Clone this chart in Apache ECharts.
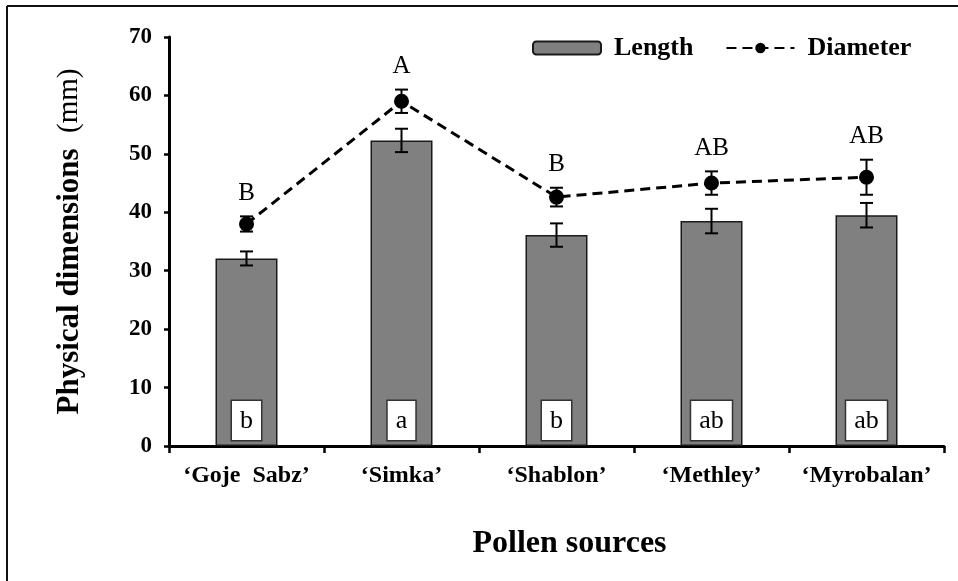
<!DOCTYPE html>
<html>
<head>
<meta charset="utf-8">
<script src="https://cdn.jsdelivr.net/npm/echarts@6/dist/echarts.min.js"></script>
<style>
html,body{margin:0;padding:0;background:#fff;}
#chart{width:958px;height:581px;}
</style>
</head>
<body>
<div id="chart"></div>
<script>
var categories = ['\u2018Goje  Sabz\u2019', '\u2018Simka\u2019', '\u2018Shablon\u2019', '\u2018Methley\u2019', '\u2018Myrobalan\u2019'];
var lengthVals = [32.1, 52.3, 36.1, 38.5, 39.5];
var lengthErr = [1.2, 2.0, 2.0, 2.1, 2.1];
var diameterVals = [38.0, 59.0, 42.6, 45.0, 46.0];
var diameterErr = [1.3, 2.0, 1.6, 2.0, 3.0];
var lengthLetters = ['b', 'a', 'b', 'ab', 'ab'];
var diameterLetters = ['B', 'A', 'B', 'AB', 'AB'];
var yTicks = [0, 10, 20, 30, 40, 50, 60, 70];

var SERIF = '"Liberation Serif", "Times New Roman", serif';

function errData(vals, errs) {
  return vals.map(function (v, i) { return [i, v, errs[i]]; });
}

function errRender(letters) {
  return function (params, api) {
    var x = api.value(0), v = api.value(1), e = api.value(2);
    var top = api.coord([x, v + e]);
    var bot = api.coord([x, v - e]);
    var h = 6.5;
    var st = { stroke: '#000', lineWidth: 2 };
    var children = [
      { type: 'line', shape: { x1: top[0], y1: top[1], x2: bot[0], y2: bot[1] }, style: st },
      { type: 'line', shape: { x1: top[0] - h, y1: top[1], x2: top[0] + h, y2: top[1] }, style: st },
      { type: 'line', shape: { x1: bot[0] - h, y1: bot[1], x2: bot[0] + h, y2: bot[1] }, style: st }
    ];
    if (letters) {
      children.push({
        type: 'text',
        style: {
          x: top[0], y: top[1] - 23,
          text: letters[params.dataIndex],
          fill: '#000',
          font: '25px ' + SERIF,
          align: 'center', verticalAlign: 'middle'
        }
      });
    }
    return { type: 'group', children: children };
  };
}

var chart = echarts.init(document.getElementById('chart'), null, { renderer: 'canvas' });

chart.setOption({
  animation: false,
  backgroundColor: '#fff',
  graphic: [
    { type: 'line', shape: { x1: 7, y1: 6, x2: 958, y2: 6 }, style: { stroke: '#111', lineWidth: 2 } },
    { type: 'line', shape: { x1: 7, y1: 6, x2: 7, y2: 581 }, style: { stroke: '#111', lineWidth: 2 } }
  ],
  legend: {
    left: 532,
    top: 35,
    padding: 0,
    itemWidth: 68,
    itemHeight: 13,
    itemGap: 32,
    data: ['Length', 'Diameter'],
    textStyle: { fontFamily: SERIF, fontWeight: 'bold', fontSize: 26, color: '#000', padding: [0, 0, 0, 8] }
  },
  grid: { left: 169, right: 14, top: 37, bottom: 135, containLabel: false },
  xAxis: {
    type: 'category',
    data: categories,
    name: 'Pollen sources',
    nameLocation: 'middle',
    nameGap: 82,
    nameTextStyle: { fontFamily: SERIF, fontWeight: 'bold', fontSize: 32, color: '#000', padding: [0, 0, 0, 26] },
    axisLine: { lineStyle: { color: '#000', width: 3 } },
    axisTick: { show: true, alignWithLabel: false, inside: false, length: 7, lineStyle: { color: '#000', width: 2.5 } },
    axisLabel: { interval: 0, fontFamily: SERIF, fontWeight: 'bold', fontSize: 24, color: '#000', margin: 18 },
    splitLine: { show: false }
  },
  yAxis: {
    type: 'value',
    min: yTicks[0],
    max: yTicks[yTicks.length - 1],
    interval: yTicks[1] - yTicks[0],
    name: '{b|Physical dimensions\u2002}{n|(mm)}',
    nameLocation: 'middle',
    nameGap: 84,
    nameRotate: 90,
    nameTextStyle: {
      color: '#000',
      rich: {
        b: { fontFamily: SERIF, fontWeight: 'bold', fontSize: 31, color: '#000' },
        n: { fontFamily: SERIF, fontWeight: 'normal', fontSize: 29, color: '#000' }
      }
    },
    axisLine: { show: true, lineStyle: { color: '#000', width: 3 } },
    axisTick: { show: true, inside: false, length: 5, lineStyle: { color: '#000', width: 2.5 } },
    axisLabel: { fontFamily: SERIF, fontWeight: 'bold', fontSize: 23, color: '#000', margin: 17 },
    splitLine: { show: false }
  },
  series: [
    {
      name: 'Length',
      type: 'bar',
      data: lengthVals.map(function (v, i) { return { value: v, label: { formatter: lengthLetters[i] } }; }),
      barWidth: '40%',
      itemStyle: { color: '#808080', borderColor: '#1a1a1a', borderWidth: 1.5 },
      label: {
        show: true,
        position: 'insideBottom',
        distance: 6,
        fontFamily: SERIF,
        fontSize: 26,
        color: '#000',
        backgroundColor: '#fff',
        borderColor: '#333',
        borderWidth: 1.5,
        padding: [7, 8, 6, 8],
        lineHeight: 26
      },
      z: 2
    },
    {
      name: 'Length err',
      type: 'custom',
      data: errData(lengthVals, lengthErr),
      renderItem: errRender(null),
      encode: { x: 0, y: 1 },
      z: 3,
      silent: true
    },
    {
      name: 'Diameter',
      type: 'line',
      data: diameterVals,
      symbol: 'circle',
      symbolSize: 15,
      itemStyle: { color: '#000' },
      lineStyle: { color: '#000', width: 3, type: [10, 6] },
      z: 4
    },
    {
      name: 'Diameter err',
      type: 'custom',
      data: errData(diameterVals, diameterErr),
      renderItem: errRender(diameterLetters),
      encode: { x: 0, y: 1 },
      z: 5,
      silent: true
    }
  ]
});
</script>
</body>
</html>
